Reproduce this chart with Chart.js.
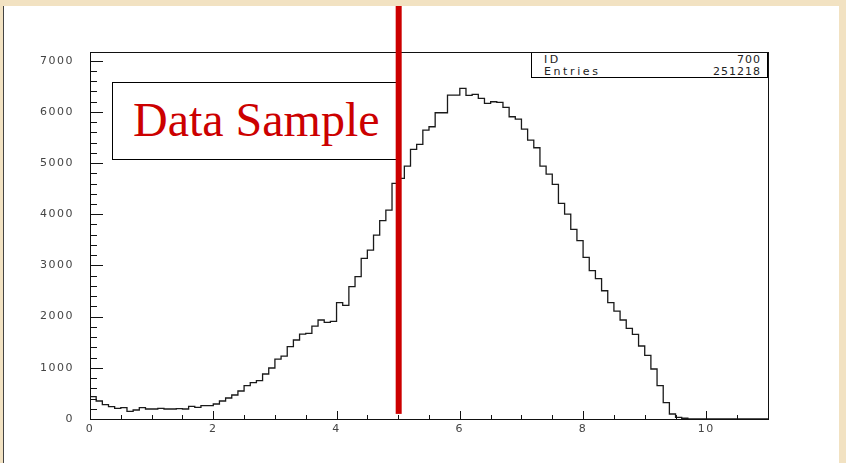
<!DOCTYPE html>
<html>
<head>
<meta charset="utf-8">
<script src="https://cdn.jsdelivr.net/npm/chart.js@4.4.0/dist/chart.umd.min.js"></script>
<style>
  html, body { margin:0; padding:0; width:846px; height:463px; overflow:hidden; background:#f2e2c2; }
  #panel { position:absolute; left:3px; top:6px; width:835px; height:457px; background:#ffffff; border-left:1px solid #444; }
  #label { position:absolute; left:112px; top:82px; width:287px; height:78px; border:1px solid #000; background:#fff;
           box-sizing:border-box; font-family:"Liberation Serif", serif; font-size:48px; color:#cc0000; }
  #label span { position:absolute; left:20px; top:13px; line-height:1; white-space:nowrap; }
  #stats { position:absolute; left:531px; top:52px; width:237px; height:26px; border:1px solid #000; box-sizing:border-box;
           font-family:"DejaVu Sans", sans-serif; font-size:11px; color:#222; }
  #stats .row { position:absolute; left:12px; right:6px; height:12px; line-height:12px; letter-spacing:2.6px; }
  #stats .row b { font-weight:normal; position:absolute; right:0; letter-spacing:1px; }
  #wrap { position:absolute; left:0; top:0; width:846px; height:463px; }
</style>
</head>
<body>
<div id="panel"></div>
<div id="label"><span>Data Sample</span></div>
<div id="stats">
  <div class="row" style="top:1px">ID<b>700</b></div>
  <div class="row" style="top:13px">Entries<b>251218</b></div>
</div>
<div id="wrap"><canvas id="c" width="846" height="463"></canvas></div>
<script>
// ---- data (histogram, 0.1-wide bins starting at 0) ----
const binStart = 0;
const binWidth = 0.1;
const counts = [
  570, 436, 352, 280, 240, 208, 221, 150, 176, 221,
  195, 195, 208, 195, 195, 202, 195, 247, 228, 260,
  260, 293, 352, 410, 469, 547, 651, 710, 749, 879,
  996, 1170, 1230, 1413, 1543, 1660, 1673, 1816, 1934, 1888,
  1907, 2272, 2220, 2585, 2780, 3138, 3301, 3594, 3874, 4082,
  4603, 4701, 4941, 5267, 5365, 5645, 5710, 5983, 5983, 6328,
  6328, 6458, 6322, 6341, 6263, 6165, 6198, 6185, 6087, 5905,
  5859, 5664, 5449, 5299, 4941, 4785, 4583, 4212, 4004, 3704,
  3483, 3157, 2897, 2741, 2506, 2272, 2109, 1934, 1771, 1654,
  1426, 1243, 977, 651, 319, 98, 33, 15, 0, 0,
  0, 0, 0, 0, 0, 0, 0, 0, 0, 0
];
const xRange = [0, 11];
const yRange = [0, 7170];
const xTickLabels = [0, 2, 4, 6, 8, 10];
const yTickLabels = [0, 1000, 2000, 3000, 4000, 5000, 6000, 7000];
const xMajorStep = 2, xMinorStep = 0.5;
const yMajorStep = 1000, yMinorStep = 200;
const cutX = 5.0;        // red vertical line position
const cutBottom = 100;   // red line lower end (in y units)

// step outline points: left edge of every bin, then closing right edge
const points = counts.map((v, i) => ({ x: binStart + i * binWidth, y: v }));
points.push({ x: binStart + counts.length * binWidth, y: counts[counts.length - 1] });

const deco = {
  id: 'deco',
  beforeDraw(chart) {
    chart.ctx.letterSpacing = '1.5px';
  },
  afterDatasetsDraw(chart) {
    const { ctx, chartArea: a, scales: { x, y } } = chart;
    ctx.save();
    ctx.letterSpacing = '0px';
    ctx.strokeStyle = '#111';
    ctx.lineWidth = 1;
    // frame
    ctx.strokeRect(Math.round(a.left) + 0.5, Math.round(a.top) + 0.5,
                   Math.round(a.right - a.left), Math.round(a.bottom - a.top));
    ctx.beginPath();
    // x ticks (inside, from bottom)
    for (let v = xRange[0]; v <= xRange[1] + 1e-9; v += xMinorStep) {
      const px = Math.round(x.getPixelForValue(v)) + 0.5;
      const major = Math.abs(v / xMajorStep - Math.round(v / xMajorStep)) < 1e-6;
      const len = major ? 8 : 4;
      ctx.moveTo(px, a.bottom);
      ctx.lineTo(px, a.bottom - len);
    }
    // y ticks (inside, from left)
    for (let v = yRange[0]; v <= yRange[1] + 1e-9; v += yMinorStep) {
      const py = Math.round(y.getPixelForValue(v)) + 0.5;
      const major = Math.abs(v / yMajorStep - Math.round(v / yMajorStep)) < 1e-6;
      const len = major ? 13 : 7;
      ctx.moveTo(a.left, py);
      ctx.lineTo(a.left + len, py);
    }
    ctx.stroke();
    // red cut line
    const rx = x.getPixelForValue(cutX);
    ctx.fillStyle = '#cc0000';
    const yb = y.getPixelForValue(cutBottom);
    ctx.fillRect(rx - 2.5, 6, 6, yb - 6);
    ctx.restore();
  }
};

new Chart(document.getElementById('c'), {
  type: 'line',
  data: {
    datasets: [{
      data: points,
      stepped: 'after',
      borderColor: '#1a1a1a',
      borderWidth: 1.3,
      pointRadius: 0,
      fill: false,
      tension: 0
    }]
  },
  options: {
    responsive: false,
    animation: false,
    events: [],
    layout: { padding: { left: 0, top: 52, right: 78, bottom: 0 } },
    plugins: { legend: { display: false }, tooltip: { enabled: false } },
    scales: {
      x: {
        type: 'linear', min: xRange[0], max: xRange[1],
        grid: { display: false, drawTicks: false },
        border: { display: false },
        afterBuildTicks: s => { s.ticks = xTickLabels.map(v => ({ value: v })); },
        ticks: { padding: 4, color: '#444', autoSkip: false,
                 font: { family: 'DejaVu Sans', size: 11 }, maxRotation: 0,
                 callback: v => String(v) },
        afterFit: s => { s.height = 44; }
      },
      y: {
        type: 'linear', min: yRange[0], max: yRange[1],
        grid: { display: false, drawTicks: false },
        border: { display: false },
        afterBuildTicks: s => { s.ticks = yTickLabels.map(v => ({ value: v })); },
        ticks: { padding: 16, color: '#444', autoSkip: false,
                 font: { family: 'DejaVu Sans', size: 11 },
                 callback: v => String(v) },
        afterFit: s => { s.width = 90; }
      }
    }
  },
  plugins: [deco]
});
</script>
</body>
</html>
